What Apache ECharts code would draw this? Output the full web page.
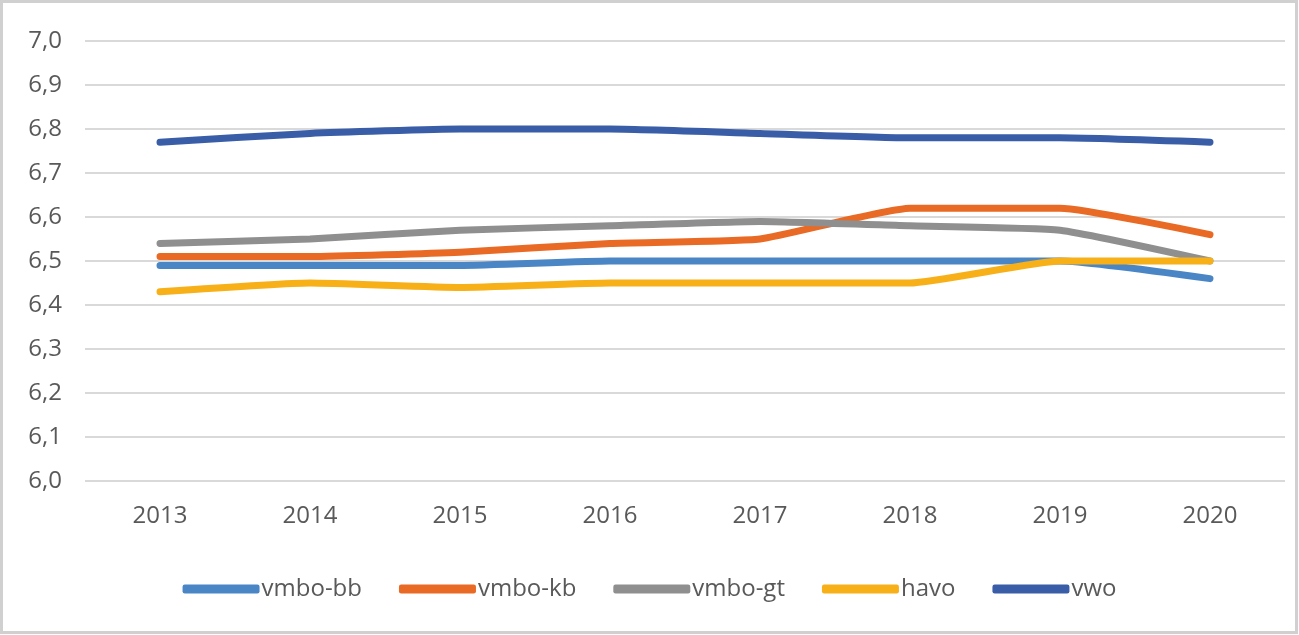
<!DOCTYPE html>
<html><head><meta charset="utf-8">
<script src="https://cdn.jsdelivr.net/npm/echarts@6/dist/echarts.min.js"></script>
<style>html,body{margin:0;padding:0;background:#fff;}#c{width:1299px;height:635px;}</style>
</head><body><div id="c"></div>
<script>
const categories = ['2013','2014','2015','2016','2017','2018','2019','2020'];
const vmboBB = [6.49,6.49,6.49,6.50,6.50,6.50,6.50,6.46];
const vmboKB = [6.51,6.51,6.52,6.54,6.55,6.62,6.62,6.56];
const vmboGT = [6.54,6.55,6.57,6.58,6.59,6.58,6.57,6.50];
const havo   = [6.43,6.45,6.44,6.45,6.45,6.45,6.50,6.50];
const vwo    = [6.77,6.79,6.80,6.80,6.79,6.78,6.78,6.77];
const seriesNames = ['vmbo-bb','vmbo-kb','vmbo-gt','havo','vwo'];
const seriesData = [vmboBB, vmboKB, vmboGT, havo, vwo];
const colors = ['#4A86C6','#E96A24','#8F8F8F','#F8B018','#3A5DA8'];

const chart = echarts.init(document.getElementById('c'));
const font = 'Open Sans, Liberation Sans, sans-serif';
chart.setOption({
  animation:false,
  color: colors,
  graphic:[{type:'rect',shape:{x:1.5,y:1.5,width:1295,height:631},style:{fill:'none',stroke:'#d0d0d0',lineWidth:3},silent:true}],
  grid:{left:85,right:14,top:41,bottom:154,containLabel:false},
  legend:{
    top:572, left:'center', itemGap:37, itemWidth:77, itemHeight:9,
    icon:'roundRect',
    textStyle:{fontFamily:font,fontSize:24,color:'#595959',padding:[0,0,0,-3]},
    data: seriesNames
  },
  xAxis:{
    type:'category', data:categories, boundaryGap:true,
    axisLine:{show:false}, axisTick:{show:false},
    axisLabel:{fontFamily:font,fontSize:24,color:'#595959',margin:23}
  },
  yAxis:{
    type:'value', min:6.0, max:7.0, interval:0.1,
    axisLine:{show:false}, axisTick:{show:false},
    axisLabel:{fontFamily:font,fontSize:24,color:'#595959',margin:23,
      formatter:v=>v.toFixed(1).replace('.',',')},
    splitLine:{lineStyle:{color:'#d9d9d9',width:2}}
  },
  series: seriesNames.map((n,i)=>({
    name:n, type:'line', data:seriesData[i], showSymbol:false, symbol:'none',
    smooth:0.15,
    lineStyle:{width:7,cap:'round',join:'round',color:colors[i]},
    itemStyle:{color:colors[i]}
  }))
});
</script></body></html>
